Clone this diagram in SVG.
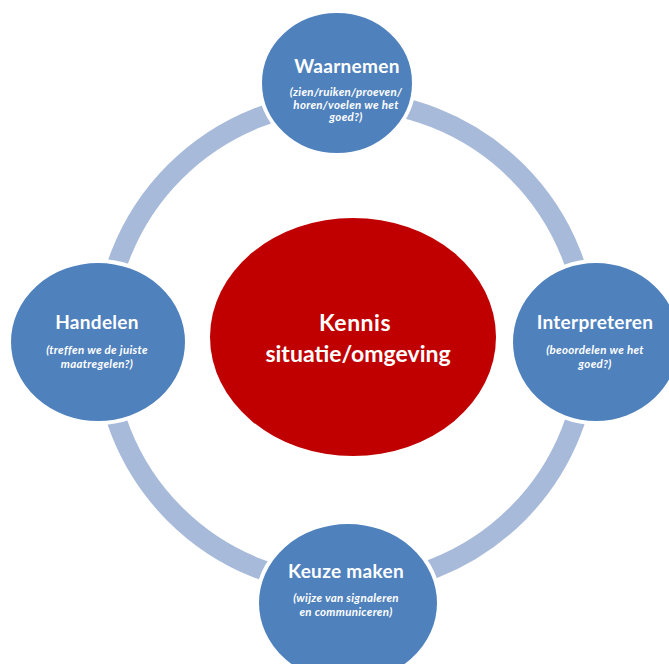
<svg xmlns="http://www.w3.org/2000/svg" width="669" height="664" viewBox="0 0 669 664">
<style>
.ring{fill:none;stroke:#A8BAD9;stroke-width:20}
.node{fill:#4F81BD;stroke:#FFFFFF;stroke-width:4}
.core{fill:#C00000;stroke:none}
.t{font-family:Lato,"Liberation Sans",sans-serif;font-weight:bold;fill:#FFFFFF;text-anchor:middle;font-size:19px;letter-spacing:0.3px}
.s{font-family:Lato,"Liberation Sans",sans-serif;font-weight:bold;font-style:italic;fill:#FFFFFF;text-anchor:middle;font-size:11.5px;letter-spacing:0.3px}
.k{font-family:Lato,"Liberation Sans",sans-serif;font-weight:bold;fill:#FFFFFF;text-anchor:middle;font-size:23px}
</style>
<rect width="669" height="664" fill="#FFFFFF"/>
<g id="connectors">
<path class="ring" d="M346,101 A242,242 0 0 1 588,343"/>
<path class="ring" d="M588,343 A242,242 0 0 1 346,585"/>
<path class="ring" d="M346,585 A242,242 0 0 1 104,343"/>
<path class="ring" d="M104,343 A242,242 0 0 1 346,101"/>
</g>
<g id="kennis">
<ellipse class="core" cx="353" cy="337" rx="143" ry="119"/>
<text class="k" x="355" y="331" letter-spacing="0.5">Kennis</text>
<text class="k" x="358" y="362">situatie/omgeving</text>
</g>
<g id="waarnemen">
<ellipse class="node" cx="337" cy="83" rx="77" ry="72"/>
<text class="t" x="347" y="73">Waarnemen</text>
<text class="s" x="346" y="96">(zien/ruiken/proeven/</text>
<text class="s" x="346" y="108.5">horen/voelen we het</text>
<text class="s" x="346" y="121">goed?)</text>
</g>
<g id="handelen">
<ellipse class="node" cx="98" cy="342" rx="89" ry="81"/>
<text class="t" x="97" y="329">Handelen</text>
<text class="s" x="97" y="354">(treffen we de juiste</text>
<text class="s" x="97" y="368">maatregelen?)</text>
</g>
<g id="interpreteren">
<ellipse class="node" cx="596" cy="342" rx="85" ry="81"/>
<text class="t" x="595" y="329">Interpreteren</text>
<text class="s" x="595" y="354">(beoordelen we het</text>
<text class="s" x="595" y="368">goed?)</text>
</g>
<g id="keuze">
<ellipse class="node" cx="348" cy="603" rx="91" ry="81"/>
<text class="t" x="346" y="578">Keuze maken</text>
<text class="s" x="346" y="602">(wijze van signaleren</text>
<text class="s" x="346" y="616">en communiceren)</text>
</g>
</svg>
